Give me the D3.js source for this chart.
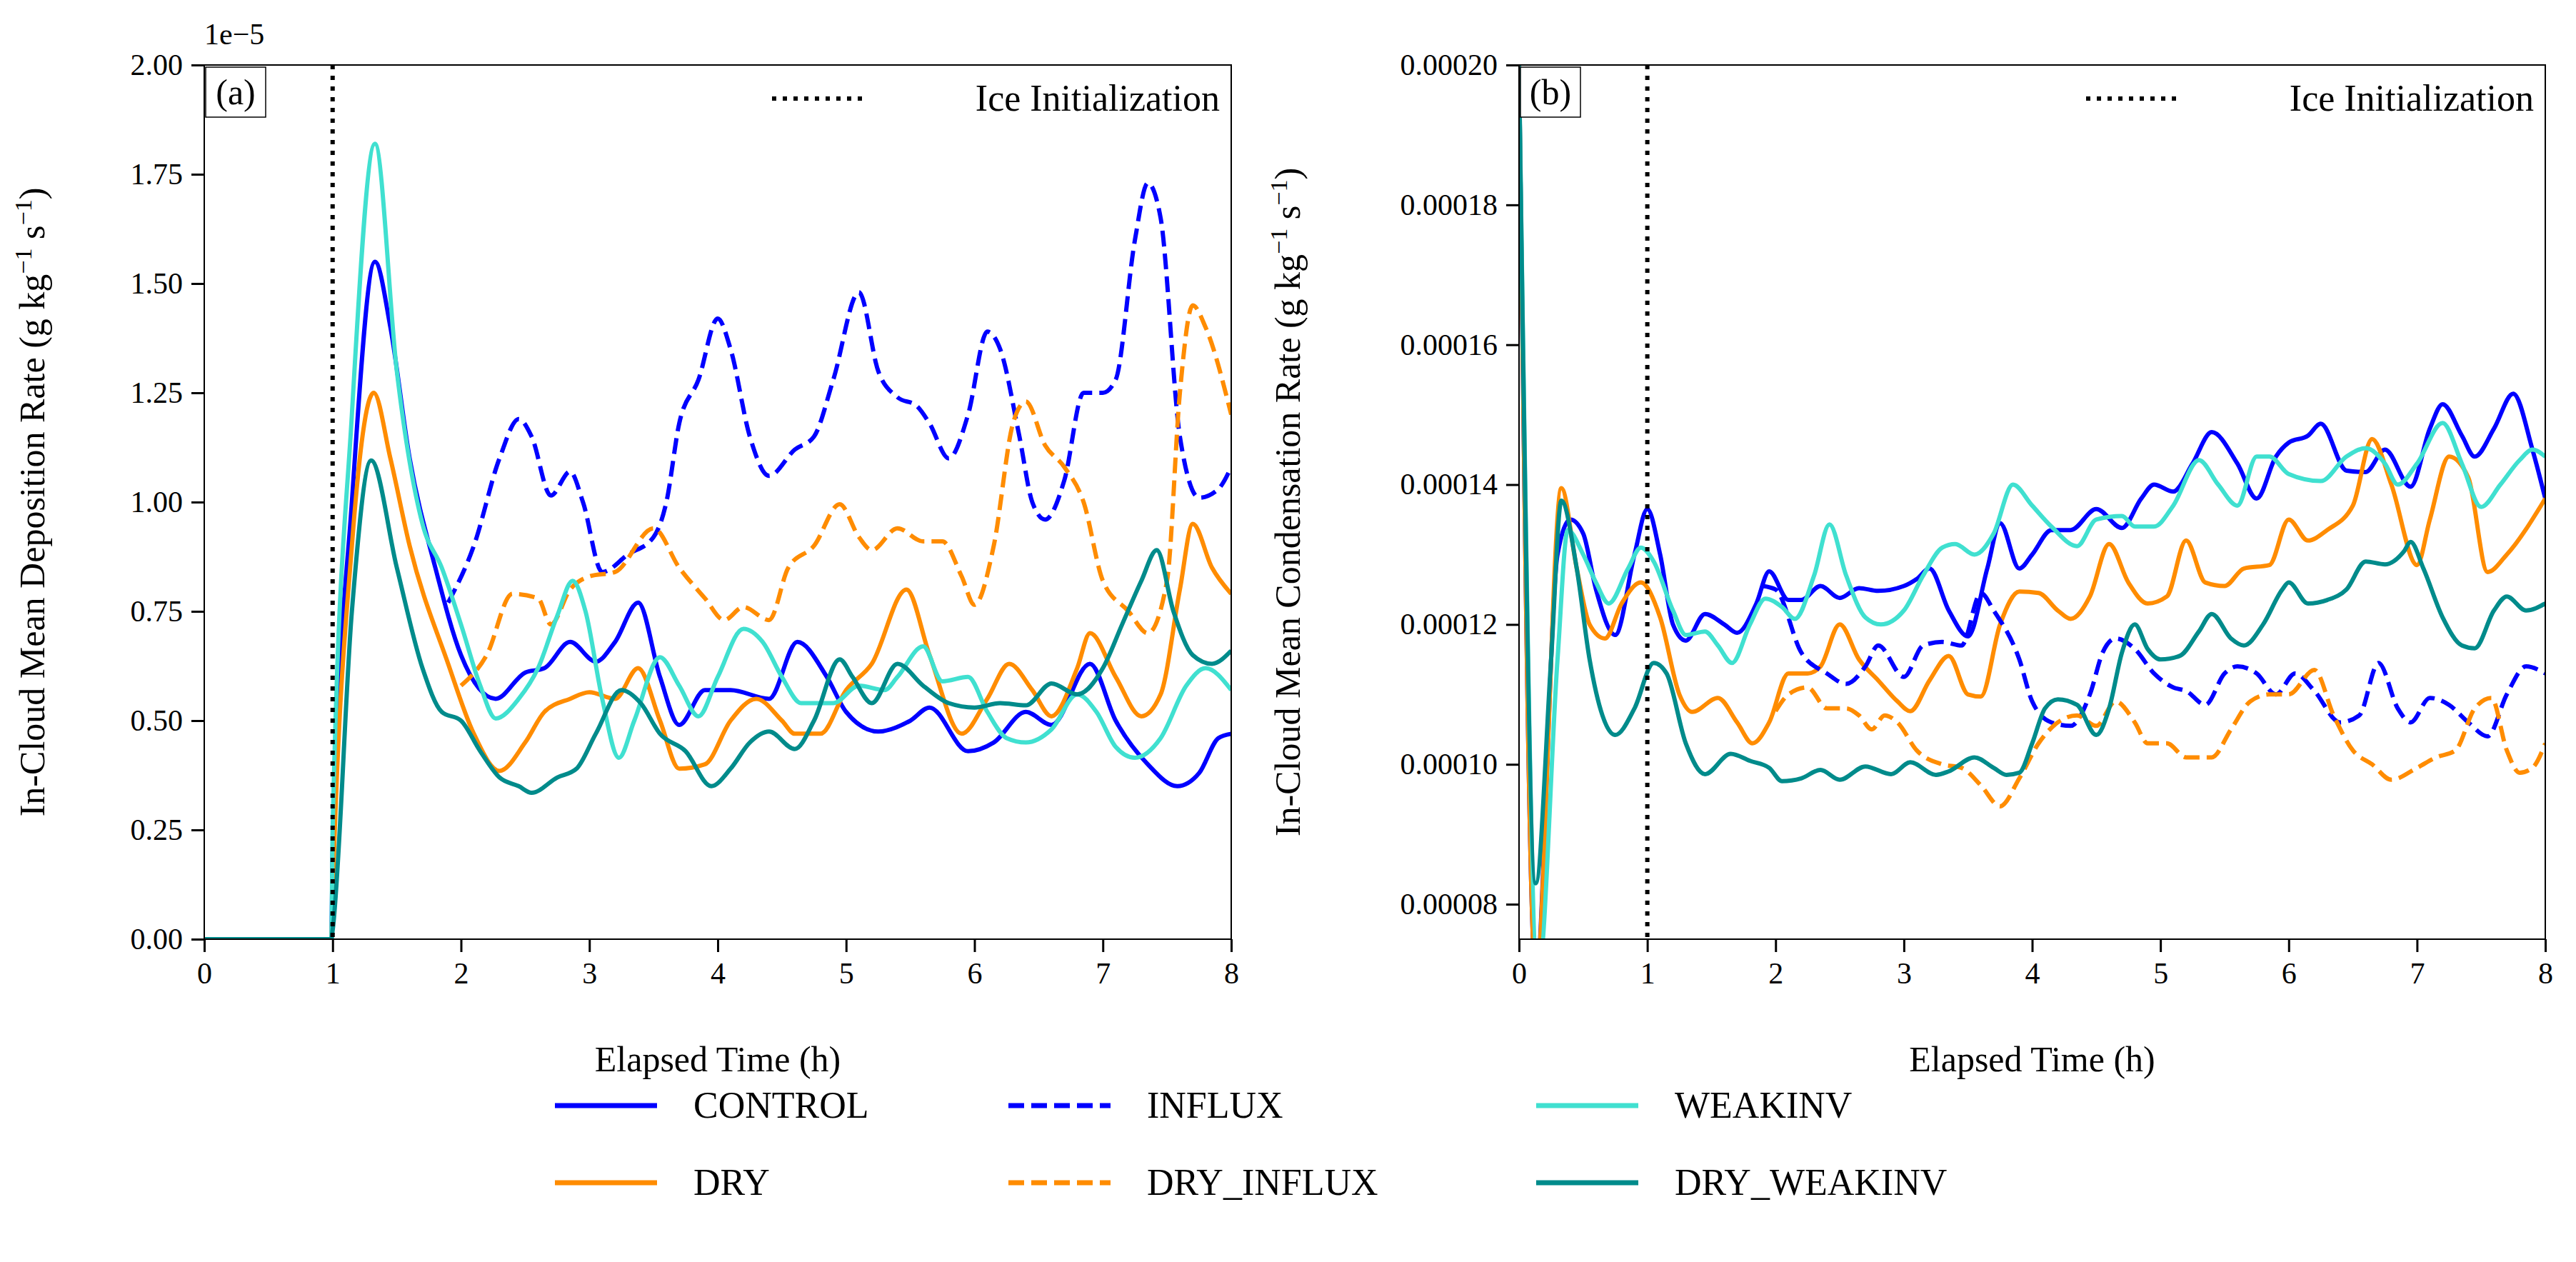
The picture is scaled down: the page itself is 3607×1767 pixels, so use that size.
<!DOCTYPE html>
<html><head><meta charset="utf-8">
<script src="https://d3js.org/d3.v7.min.js"></script>
<style>body{margin:0;background:#fff}text{font-family:"Liberation Serif","Times New Roman",serif;fill:#000}</style>
</head><body><svg id="viz"></svg>
<script>
// series names, colours, dash
let names = ["CONTROL","DRY","INFLUX","DRY_INFLUX","WEAKINV","DRY_WEAKINV"];
let colors = {CONTROL:"#0000ff",DRY:"#ff8c00",INFLUX:"#0000ff",DRY_INFLUX:"#ff8c00",WEAKINV:"#40e0d0",DRY_WEAKINV:"#008b8b"};
let dashed = {INFLUX:true,DRY_INFLUX:true};
let xTicks = [0,1,2,3,4,5,6,7,8];
let yTicksA = [0,0.25,0.5,0.75,1.0,1.25,1.5,1.75,2.0];
let yTicksB = [8,10,12,14,16,18,20];

// panel (a) deposition rate, units 1e-5 g/kg/s: [hour, value]
let depControl = [[0,0],[0.99,0],[1.0,0.2],[1.15,1.0],[1.33,1.55],[1.45,1.4],[1.6,1.1],[1.8,0.85],[2.0,0.65],[2.27,0.55],[2.5,0.61],[2.65,0.62],[2.85,0.68],[3.05,0.635],[3.2,0.68],[3.38,0.77],[3.55,0.6],[3.7,0.49],[3.9,0.57],[4.1,0.57],[4.4,0.55],[4.62,0.68],[4.85,0.6],[5.0,0.52],[5.25,0.475],[5.5,0.5],[5.65,0.53],[5.95,0.43],[6.15,0.45],[6.4,0.52],[6.6,0.49],[6.9,0.63],[7.1,0.5],[7.35,0.4],[7.58,0.35],[7.75,0.38],[7.9,0.46],[8.0,0.47]];
let depInflux = [[1.9,0.77],[2.1,0.9],[2.3,1.1],[2.45,1.19],[2.55,1.15],[2.7,1.015],[2.85,1.07],[2.95,1.0],[3.1,0.84],[3.3,0.88],[3.5,0.92],[3.6,1.0],[3.7,1.18],[3.85,1.28],[4.0,1.42],[4.1,1.35],[4.25,1.15],[4.4,1.06],[4.6,1.12],[4.75,1.15],[4.9,1.28],[5.1,1.48],[5.25,1.3],[5.4,1.24],[5.55,1.22],[5.65,1.18],[5.8,1.1],[5.95,1.2],[6.1,1.39],[6.2,1.35],[6.35,1.15],[6.45,1.0],[6.55,0.96],[6.7,1.05],[6.85,1.25],[7.0,1.25],[7.1,1.28],[7.25,1.6],[7.35,1.73],[7.45,1.65],[7.6,1.15],[7.75,1.01],[7.9,1.03],[8.0,1.08]];
let depDry = [[0,0],[0.99,0],[1.0,0.1],[1.15,0.9],[1.32,1.25],[1.45,1.1],[1.6,0.9],[1.9,0.63],[2.1,0.47],[2.3,0.385],[2.5,0.45],[2.65,0.52],[2.85,0.55],[3.0,0.565],[3.2,0.55],[3.38,0.62],[3.55,0.5],[3.7,0.39],[3.9,0.4],[4.1,0.5],[4.3,0.55],[4.5,0.5],[4.6,0.47],[4.8,0.47],[5.0,0.57],[5.2,0.63],[5.47,0.8],[5.65,0.65],[5.9,0.47],[6.1,0.55],[6.27,0.63],[6.45,0.57],[6.6,0.51],[6.8,0.62],[6.9,0.7],[7.1,0.6],[7.3,0.51],[7.45,0.56],[7.6,0.8],[7.7,0.95],[7.85,0.85],[8.0,0.79]];
let depDryInflux = [[2.0,0.58],[2.2,0.65],[2.4,0.79],[2.6,0.78],[2.7,0.72],[2.85,0.8],[3.0,0.83],[3.2,0.84],[3.5,0.94],[3.7,0.85],[3.9,0.78],[4.05,0.73],[4.2,0.76],[4.4,0.73],[4.55,0.85],[4.75,0.9],[4.95,0.995],[5.1,0.92],[5.2,0.89],[5.4,0.94],[5.6,0.91],[5.75,0.91],[5.9,0.83],[6.0,0.765],[6.15,0.9],[6.3,1.18],[6.4,1.23],[6.55,1.13],[6.7,1.08],[6.85,1.0],[7.0,0.82],[7.2,0.75],[7.35,0.7],[7.5,0.82],[7.6,1.25],[7.7,1.45],[7.8,1.4],[8.0,1.2]];
let depWeak = [[0,0],[0.99,0],[1.0,0.25],[1.15,1.2],[1.33,1.82],[1.5,1.3],[1.7,0.95],[1.85,0.85],[2.0,0.72],[2.15,0.58],[2.27,0.505],[2.45,0.55],[2.6,0.62],[2.75,0.74],[2.87,0.82],[2.97,0.75],[3.1,0.55],[3.23,0.415],[3.35,0.5],[3.55,0.645],[3.7,0.58],[3.85,0.51],[4.0,0.6],[4.2,0.71],[4.35,0.68],[4.5,0.6],[4.65,0.54],[4.9,0.54],[5.1,0.58],[5.3,0.57],[5.4,0.6],[5.6,0.67],[5.75,0.59],[5.95,0.6],[6.1,0.52],[6.25,0.46],[6.4,0.45],[6.6,0.48],[6.8,0.56],[6.95,0.52],[7.1,0.44],[7.25,0.415],[7.45,0.46],[7.65,0.58],[7.8,0.62],[8.0,0.57]];
let depDryWeak = [[0,0],[0.99,0],[1.0,0.02],[1.15,0.75],[1.3,1.095],[1.5,0.85],[1.7,0.62],[1.85,0.52],[2.0,0.5],[2.15,0.43],[2.3,0.37],[2.45,0.35],[2.55,0.335],[2.75,0.37],[2.9,0.39],[3.05,0.47],[3.25,0.57],[3.4,0.54],[3.55,0.47],[3.75,0.43],[3.95,0.35],[4.1,0.39],[4.25,0.45],[4.4,0.475],[4.6,0.435],[4.75,0.5],[4.95,0.64],[5.05,0.6],[5.2,0.54],[5.4,0.63],[5.6,0.58],[5.8,0.54],[6.0,0.53],[6.2,0.54],[6.4,0.535],[6.6,0.585],[6.8,0.56],[7.0,0.62],[7.15,0.72],[7.3,0.82],[7.42,0.89],[7.55,0.75],[7.7,0.65],[7.85,0.63],[8.0,0.66]];

// panel (b) condensation rate, units 1e-5 g/kg/s
let conControl = [[0,20],[0.13,7.0],[0.3,13.0],[0.4,13.5],[0.5,13.3],[0.6,12.5],[0.75,11.85],[0.9,13.0],[1.0,13.65],[1.1,13.0],[1.2,12.0],[1.3,11.77],[1.45,12.15],[1.6,12.0],[1.7,11.88],[1.85,12.3],[1.95,12.76],[2.1,12.35],[2.2,12.35],[2.35,12.55],[2.5,12.38],[2.65,12.52],[2.8,12.48],[3.0,12.55],[3.1,12.65],[3.2,12.8],[3.35,12.2],[3.5,11.83],[3.65,12.8],[3.75,13.45],[3.9,12.8],[4.0,13.0],[4.15,13.35],[4.3,13.35],[4.5,13.65],[4.7,13.38],[4.85,13.8],[4.95,14.0],[5.1,13.9],[5.25,14.3],[5.4,14.75],[5.6,14.3],[5.75,13.8],[5.9,14.4],[6.0,14.6],[6.15,14.7],[6.25,14.87],[6.45,14.2],[6.6,14.18],[6.75,14.5],[6.95,13.97],[7.1,14.8],[7.2,15.15],[7.35,14.7],[7.45,14.4],[7.6,14.8],[7.75,15.3],[7.9,14.5],[8.0,13.8]];
let conInflux = [[1.9,12.55],[2.0,12.5],[2.2,11.6],[2.4,11.3],[2.55,11.15],[2.7,11.4],[2.8,11.7],[3.0,11.25],[3.15,11.7],[3.3,11.75],[3.45,11.7],[3.6,12.45],[3.7,12.2],[3.9,11.5],[4.0,10.9],[4.15,10.6],[4.3,10.55],[4.45,11.0],[4.55,11.6],[4.65,11.8],[4.8,11.65],[4.95,11.3],[5.1,11.1],[5.2,11.05],[5.35,10.85],[5.5,11.3],[5.6,11.4],[5.75,11.3],[5.9,11.0],[6.05,11.3],[6.2,11.05],[6.4,10.6],[6.55,10.7],[6.7,11.45],[6.85,10.8],[6.95,10.6],[7.1,10.95],[7.25,10.85],[7.4,10.6],[7.55,10.4],[7.7,11.0],[7.85,11.4],[8.0,11.3]];
let conDry = [[0,20],[0.13,7.0],[0.33,13.95],[0.45,12.8],[0.55,12.0],[0.67,11.8],[0.8,12.3],[0.95,12.6],[1.1,12.1],[1.25,11.0],[1.35,10.75],[1.55,10.95],[1.7,10.6],[1.82,10.3],[1.95,10.6],[2.1,11.3],[2.25,11.3],[2.35,11.4],[2.5,12.0],[2.65,11.5],[2.8,11.2],[2.95,10.9],[3.05,10.76],[3.2,11.2],[3.35,11.55],[3.5,11.0],[3.6,10.97],[3.75,12.0],[3.9,12.47],[4.05,12.45],[4.2,12.2],[4.3,12.08],[4.45,12.4],[4.6,13.15],[4.75,12.6],[4.9,12.3],[5.05,12.4],[5.2,13.2],[5.35,12.6],[5.5,12.55],[5.65,12.8],[5.85,12.85],[6.0,13.5],[6.15,13.2],[6.3,13.35],[6.5,13.7],[6.65,14.65],[6.8,14.0],[7.0,12.85],[7.1,13.5],[7.25,14.4],[7.4,14.1],[7.55,12.75],[7.7,13.0],[8.0,13.8]];
let conDryInflux = [[2.0,10.76],[2.1,11.0],[2.25,11.1],[2.4,10.8],[2.55,10.8],[2.65,10.7],[2.75,10.5],[2.85,10.7],[2.95,10.6],[3.1,10.2],[3.3,10.0],[3.45,9.95],[3.6,9.7],[3.75,9.4],[3.9,9.8],[4.05,10.3],[4.2,10.6],[4.35,10.7],[4.5,10.55],[4.65,10.9],[4.8,10.6],[4.9,10.3],[5.05,10.3],[5.2,10.1],[5.4,10.1],[5.55,10.5],[5.7,10.9],[5.85,11.0],[6.0,11.0],[6.2,11.35],[6.35,10.7],[6.5,10.2],[6.65,10.0],[6.8,9.78],[7.0,9.95],[7.15,10.1],[7.3,10.2],[7.45,10.8],[7.58,10.95],[7.7,10.2],[7.8,9.88],[7.9,9.95],[8.0,10.3]];
let conWeak = [[0,20],[0.15,7.0],[0.3,11.5],[0.38,13.35],[0.5,13.0],[0.6,12.6],[0.7,12.3],[0.85,12.8],[0.95,13.1],[1.05,12.9],[1.2,12.2],[1.3,11.85],[1.45,11.9],[1.55,11.7],[1.66,11.45],[1.8,12.0],[1.92,12.37],[2.05,12.25],[2.15,12.08],[2.3,12.7],[2.42,13.43],[2.55,12.7],[2.7,12.1],[2.82,12.0],[3.0,12.2],[3.15,12.7],[3.3,13.1],[3.4,13.15],[3.55,13.0],[3.7,13.3],[3.85,14.0],[4.0,13.7],[4.15,13.4],[4.35,13.12],[4.5,13.5],[4.7,13.55],[4.8,13.4],[4.95,13.4],[5.1,13.7],[5.3,14.35],[5.45,14.0],[5.6,13.7],[5.75,14.4],[5.85,14.4],[6.0,14.15],[6.25,14.05],[6.45,14.4],[6.6,14.52],[6.75,14.3],[6.85,14.0],[7.0,14.3],[7.2,14.88],[7.35,14.3],[7.5,13.68],[7.65,14.0],[7.8,14.35],[7.9,14.5],[8.0,14.4]];
let conDryWeak = [[0,20],[0.13,8.3],[0.25,11.5],[0.33,13.77],[0.45,12.8],[0.55,11.5],[0.65,10.7],[0.75,10.42],[0.9,10.8],[1.05,11.45],[1.15,11.3],[1.3,10.3],[1.45,9.86],[1.65,10.15],[1.8,10.05],[1.95,9.95],[2.05,9.76],[2.2,9.8],[2.35,9.92],[2.5,9.78],[2.7,9.97],[2.9,9.86],[3.05,10.03],[3.25,9.85],[3.35,9.9],[3.55,10.1],[3.7,9.95],[3.8,9.85],[3.9,9.88],[4.0,10.3],[4.1,10.8],[4.2,10.93],[4.35,10.85],[4.5,10.42],[4.6,10.8],[4.7,11.6],[4.8,12.0],[4.9,11.65],[5.0,11.5],[5.15,11.55],[5.3,11.9],[5.4,12.15],[5.55,11.8],[5.65,11.7],[5.8,12.0],[5.95,12.5],[6.0,12.6],[6.15,12.3],[6.3,12.35],[6.45,12.5],[6.6,12.9],[6.75,12.86],[6.9,13.05],[6.95,13.18],[7.05,12.8],[7.2,12.1],[7.35,11.7],[7.45,11.66],[7.6,12.2],[7.7,12.4],[7.85,12.2],[8.0,12.3]];

let W = 3607, H = 1767;
let svg = d3.select("#viz").attr("width", W).attr("height", H);
let topY = 91, botY = 1315;

function panel(id, left, right, yDomain, yTicks, fmt, series, yLabel, yLabelX, tag) {
  let x = d3.scaleLinear().domain([0, 8]).range([left, right]);
  let y = d3.scaleLinear().domain(yDomain).range([botY, topY]);
  let g = svg.append("g");
  g.append("clipPath").attr("id", "clip" + id).append("rect")
    .attr("x", left).attr("y", topY).attr("width", right - left).attr("height", botY - topY);

  let line = d3.line().x(d => x(d[0])).y(d => y(d[1])).curve(d3.curveMonotoneX);
  let plot = g.append("g").attr("clip-path", "url(#clip" + id + ")");
  names.forEach((n, i) => {
    plot.append("path").attr("d", line(series[i])).attr("fill", "none")
      .attr("stroke", colors[n]).attr("stroke-width", 6)
      .attr("stroke-dasharray", dashed[n] ? "22,10" : null)
      .attr("stroke-linejoin", "round");
  });
  // ice initialization
  plot.append("line").attr("x1", x(1)).attr("x2", x(1)).attr("y1", topY).attr("y2", botY)
    .attr("stroke", "#000").attr("stroke-width", 6).attr("stroke-dasharray", "6,9");

  g.append("rect").attr("x", left).attr("y", topY).attr("width", right - left).attr("height", botY - topY)
    .attr("fill", "none").attr("stroke", "#000").attr("stroke-width", 2);

  let xa = g.append("g").attr("transform", `translate(0,${botY})`)
    .call(d3.axisBottom(x).tickValues(xTicks).tickSize(18).tickPadding(14).tickFormat(d3.format("d")));
  let ya = g.append("g").attr("transform", `translate(${left},0)`)
    .call(d3.axisLeft(y).tickValues(yTicks).tickSize(18).tickPadding(12).tickFormat(fmt));
  [xa, ya].forEach(a => {
    a.select(".domain").remove();
    a.selectAll("line").attr("stroke", "#000").attr("stroke-width", 3);
    a.selectAll("text").style("font-size", "42px").style("font-family", "Liberation Serif");
  });

  g.append("text").attr("x", (left + right) / 2).attr("y", 1500).attr("text-anchor", "middle")
    .style("font-size", "50px").text("Elapsed Time (h)");
  let yl = g.append("text").attr("transform", `translate(${yLabelX},${(topY + botY) / 2}) rotate(-90)`)
    .attr("text-anchor", "middle").style("font-size", "50px");
  yl.append("tspan").text(yLabel + " (g kg");
  yl.append("tspan").attr("dy", -18).style("font-size", "34px").text("\u22121");
  yl.append("tspan").attr("dy", 18).text(" s");
  yl.append("tspan").attr("dy", -18).style("font-size", "34px").text("\u22121");
  yl.append("tspan").attr("dy", 18).text(")");

  // panel tag
  g.append("rect").attr("x", left + 2).attr("y", topY + 3).attr("width", 84).attr("height", 70)
    .attr("fill", "#fff").attr("stroke", "#000").attr("stroke-width", 1.5);
  g.append("text").attr("x", left + 44).attr("y", topY + 55).attr("text-anchor", "middle")
    .style("font-size", "50px").text(tag);

  // in-panel legend
  g.append("line").attr("x1", right - 643).attr("x2", right - 516).attr("y1", 138).attr("y2", 138)
    .attr("stroke", "#000").attr("stroke-width", 6).attr("stroke-dasharray", "6,9");
  g.append("text").attr("x", right - 16).attr("y", 155).attr("text-anchor", "end")
    .style("font-size", "52px").text("Ice Initialization");
  return g;
}

panel("a", 286, 1724, [0, 2.0], yTicksA, d3.format(".2f"),
  [depControl, depDry, depInflux, depDryInflux, depWeak, depDryWeak],
  "In-Cloud Mean Deposition Rate", 62, "(a)");
svg.append("text").attr("x", 286).attr("y", 62).style("font-size", "42px").text("1e\u22125");

panel("b", 2127, 3564, [7.5, 20], yTicksB, d => (d * 1e-5).toFixed(5),
  [conControl, conDry, conInflux, conDryInflux, conWeak, conDryWeak],
  "In-Cloud Mean Condensation Rate", 1820, "(b)");

// bottom legend
let legOrder = ["CONTROL","INFLUX","WEAKINV","DRY","DRY_INFLUX","DRY_WEAKINV"];
let colX = [777, 1412, 2151], rowY = [1548, 1656];
legOrder.forEach((n, i) => {
  let cx = colX[i % 3], cy = rowY[Math.floor(i / 3)];
  svg.append("line").attr("x1", cx).attr("x2", cx + 143).attr("y1", cy).attr("y2", cy)
    .attr("stroke", colors[n]).attr("stroke-width", 7)
    .attr("stroke-dasharray", dashed[n] ? "22,10" : null);
  svg.append("text").attr("x", cx + 194).attr("y", cy + 17).style("font-size", "52px").text(n);
});
</script></body></html>
